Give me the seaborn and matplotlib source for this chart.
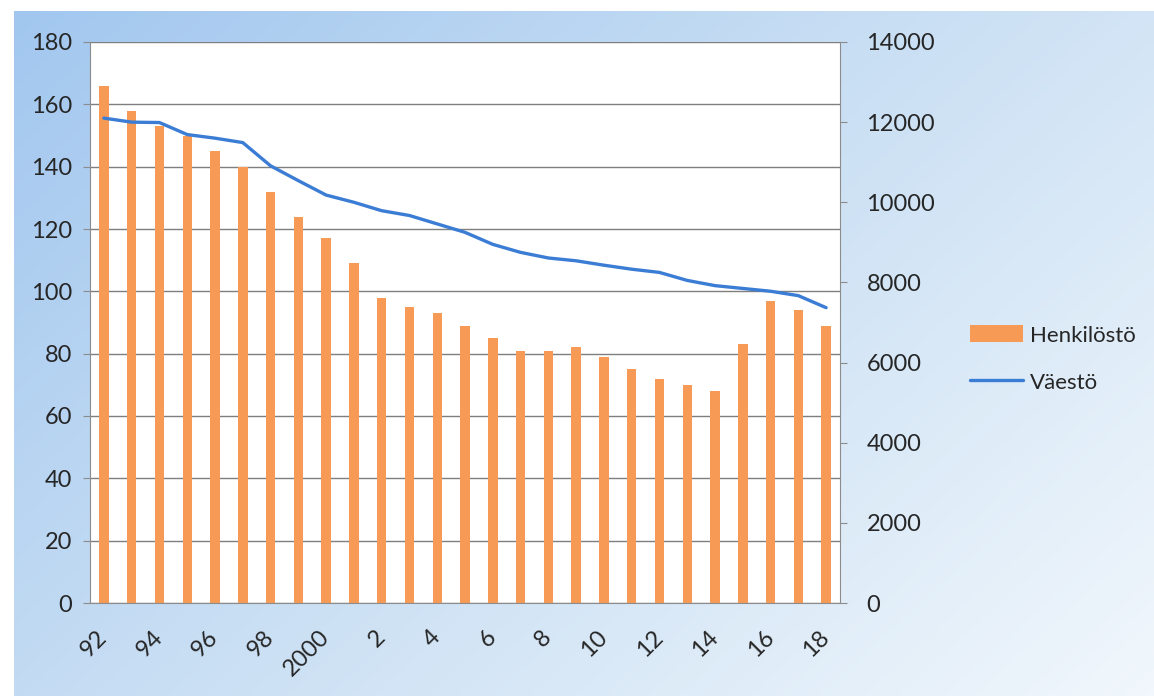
import numpy as np
import pandas as pd
import seaborn as sns
import matplotlib.pyplot as plt
from matplotlib.colors import LinearSegmentedColormap

# Henkilöstö (bars, left axis) and Väestö (line, right axis), 1992-2018
years = list(range(1992, 2019))
henkilosto = [166, 158, 153, 150, 145, 140, 132, 124, 117, 109, 98, 95, 93, 89,
              85, 81, 81, 82, 79, 75, 72, 70, 68, 83, 97, 94, 89]
vaesto = [12100, 12000, 11990, 11690, 11600, 11490, 10910, 10540, 10180, 10000,
          9790, 9670, 9460, 9250, 8950, 8750, 8610, 8540, 8430, 8330, 8250,
          8050, 7920, 7850, 7780, 7670, 7370]
tick_years = list(range(1992, 2019, 2))
tick_labels = ['92', '94', '96', '98', '2000', '2', '4', '6', '8', '10',
               '12', '14', '16', '18']

df = pd.DataFrame({'vuosi': years, 'Henkilöstö': henkilosto, 'Väestö': vaesto})

sns.set_style('white')
plt.rcParams['font.family'] = ['Lato', 'DejaVu Sans']

W, H = 1154, 696
fig = plt.figure(figsize=(W / 100, H / 100), dpi=100)
fig.patch.set_facecolor('white')

# light blue gradient background of the scanned slide
bg = fig.add_axes([14 / W, 0, 1 - 14 / W, 1 - 11 / H], zorder=-5)
gx, gy = np.meshgrid(np.linspace(0, 1, 300), np.linspace(0, 1, 200))
grad = 0.6 * gx + 0.4 * gy
cmap = LinearSegmentedColormap.from_list('bg', ['#a2c7ef', '#cbe0f4', '#f1f7fc'])
bg.imshow(grad, cmap=cmap, aspect='auto', extent=[0, 1, 0, 1], origin='upper')
bg.set_axis_off()

ax = fig.add_axes([90 / W, 1 - 603 / H, 750 / W, (603 - 42) / H])
ax.set_facecolor('white')

orange = '#f79a55'
blue = '#3b7dd4'

sns.barplot(data=df, x='vuosi', y='Henkilöstö', native_scale=True, width=0.34,
            color=orange, saturation=1, linewidth=0, ax=ax, zorder=2)
ax.set_ylim(0, 180)
ax.set_yticks(range(0, 181, 20))
ax.set_xlim(years[0] - 0.5, years[-1] + 0.5)
ax.set_xticks(tick_years)
ax.set_xticklabels(tick_labels, rotation=45, ha='right', va='center',
                   rotation_mode='anchor')
ax.set_xticks(np.arange(years[0] - 0.5, years[-1] + 1.0, 1.0), minor=True)
ax.tick_params(axis='x', which='major', length=0, pad=22, labelsize=17)
ax.tick_params(axis='x', which='minor', length=6, color='#8c8c8c', width=1)
ax.tick_params(axis='y', length=5, color='#8c8c8c', pad=8, labelsize=17,
               left=True)
ax.set_xlabel('')
ax.set_ylabel('')
ax.yaxis.grid(True, color='#7f7f7f', lw=1)
ax.set_axisbelow(True)
for s in ['top', 'right']:
    ax.spines[s].set_visible(False)
for s in ['left', 'bottom']:
    ax.spines[s].set_color('#8c8c8c')

ax2 = ax.twinx()
sns.lineplot(data=df, x='vuosi', y='Väestö', color=blue, lw=2.4, ax=ax2)
ax2.set_ylim(0, 14000)
ax2.set_yticks(range(0, 14001, 2000))
ax2.tick_params(axis='y', length=5, color='#8c8c8c', pad=14, labelsize=17,
                right=True)
ax2.set_ylabel('')
ax2.set_xlabel('')
for s in ['top', 'left', 'bottom']:
    ax2.spines[s].set_visible(False)
ax2.spines['right'].set_color('#8c8c8c')
ax2.set_xlim(years[0] - 0.5, years[-1] + 0.5)

handles = [ax.patches[0], ax2.lines[0]]
fig.legend(handles, ['Henkilöstö', 'Väestö'], loc='center left',
           bbox_to_anchor=(950 / W, 1 - 359 / H), frameon=False, fontsize=16,
           handlelength=2.4, handleheight=0.8, labelspacing=1.2,
           handletextpad=0.3)

fig.savefig('out.png', dpi=100)
